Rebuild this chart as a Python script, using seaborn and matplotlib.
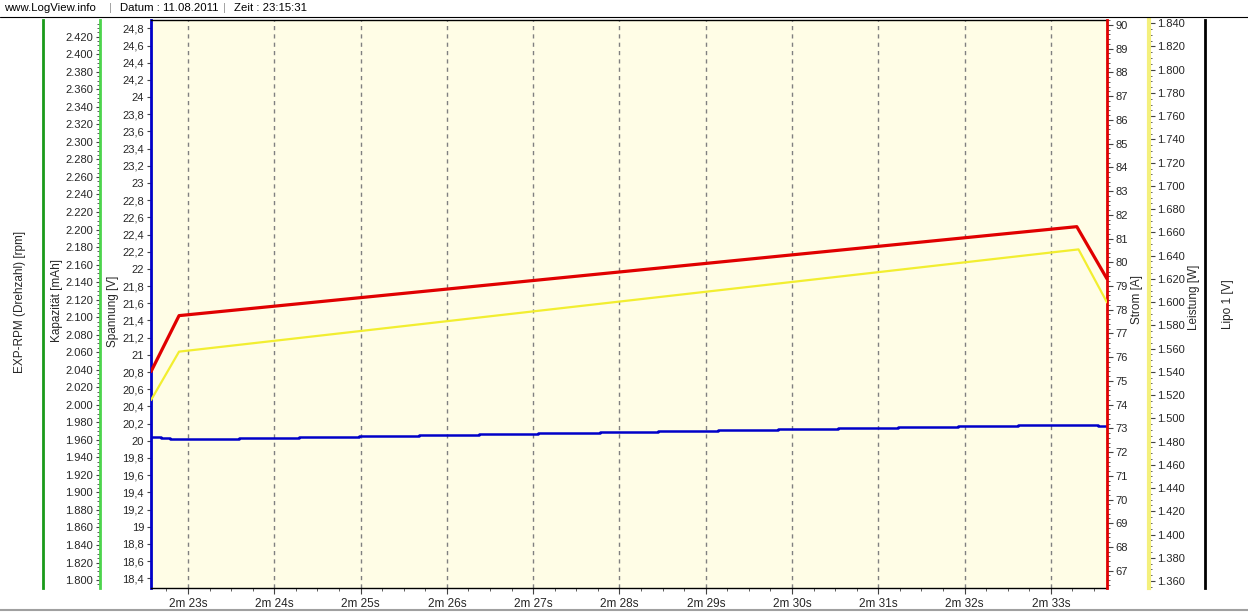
import matplotlib
matplotlib.use("Agg")
import matplotlib.pyplot as plt
from matplotlib.ticker import MultipleLocator, FuncFormatter, NullLocator
from matplotlib.lines import Line2D
import seaborn as sns

# --- Data, time in seconds: 2m 23s = 143 s ---
strom_t = [142.571, 142.896, 153.30, 153.65]
strom_a = [75.39, 77.75, 81.50, 79.30]

leistung_t = [142.571, 142.896, 153.32, 153.65]
leistung_w = [1515.7, 1557.4, 1645.4, 1599.8]

spannung_t = [142.58, 142.685, 142.79, 143.59, 144.29, 144.98, 145.68, 146.37,
              147.06, 147.77, 148.45, 149.14, 149.84, 150.53, 151.23, 151.92,
              152.62, 153.55, 153.65]
spannung_v = [20.047, 20.035, 20.020, 20.031, 20.043, 20.058, 20.066, 20.078,
              20.090, 20.105, 20.116, 20.125, 20.136, 20.148, 20.163, 20.174,
              20.183, 20.171, 20.171]

x_ticks = list(range(143, 154))
x_labels = [f"2m {s - 120}s" for s in x_ticks]

# axis ranges
X_LIM = (142.571, 153.65)
V_LIM = (18.287, 24.897)      # Spannung [V]
MAH_LIM = (1790.9, 2439.1)    # Kapazität [mAh]
A_LIM = (66.27, 90.21)        # Strom [A]
W_LIM = (1354.0, 1842.8)      # Leistung [W]

# --- Style ---
sns.set_style("white")
plt.rcParams["font.family"] = ["Liberation Sans", "DejaVu Sans"]
plt.rcParams["font.size"] = 8

W_PX, H_PX = 1248, 612
fig = plt.figure(figsize=(W_PX / 100, H_PX / 100), dpi=100)
fig.patch.set_facecolor("white")

left, right, top, bottom = 151, 1107, 20, 588
ax = fig.add_axes([left / W_PX, 1 - bottom / H_PX, (right - left) / W_PX, (bottom - top) / H_PX])
ax.set_facecolor("#fffde6")

BLUE = "#0000c8"
RED = "#e00000"
YELLOW = "#f2ee30"
YELLOW_SPINE = "#f4f07c"
LGREEN = "#4cd44c"
DGREEN = "#1a9a1a"
TICK_C = "#444444"


def frac(px):
    return (px - left) / (right - left)


def make_twin(side, pos, color, width):
    t = ax.twinx()
    for s in t.spines.values():
        s.set_visible(False)
    sp = t.spines[side]
    sp.set_visible(True)
    sp.set_position(("axes", pos))
    sp.set_color(color)
    sp.set_linewidth(width)
    if side == "left":
        t.yaxis.set_ticks_position("left")
    else:
        t.yaxis.set_ticks_position("right")
    return t


# --- main axis: Spannung (blue) ---
ax.set_xlim(*X_LIM)
ax.set_ylim(*V_LIM)
for s in ["top", "bottom"]:
    ax.spines[s].set_color("black")
    ax.spines[s].set_linewidth(1)
ax.spines["right"].set_visible(False)
ax.spines["left"].set_color(BLUE)
ax.spines["left"].set_linewidth(2)
ax.yaxis.set_major_locator(MultipleLocator(0.2))
ax.yaxis.set_major_formatter(FuncFormatter(
    lambda v, _: f"{v:.1f}".rstrip("0").rstrip(".").replace(".", ",")))
ax.set_xticks(x_ticks)
ax.set_xticklabels(x_labels)
ax.xaxis.set_minor_locator(MultipleLocator(0.25))
ax.tick_params(axis="x", which="major", direction="out", length=4, color=TICK_C, labelsize=8.5, pad=3, bottom=True)
ax.tick_params(axis="x", which="minor", direction="out", length=2, color=TICK_C, bottom=True)
ax.tick_params(axis="y", which="major", direction="out", length=3, color=TICK_C, labelsize=8, pad=2, left=True)
ax.grid(axis="x", which="major", color="#808080", linestyle=(0, (3, 3)), linewidth=1)
ax.set_axisbelow(True)

sns.lineplot(x=spannung_t, y=spannung_v, ax=ax, color=BLUE, linewidth=1.8,
             drawstyle="steps-post", errorbar=None)

# --- Kapazität (light green) and EXP-RPM (dark green) on the left ---
ax_lg = make_twin("left", frac(100), LGREEN, 2)
ax_lg.set_ylim(*MAH_LIM)
ax_lg.yaxis.set_major_locator(MultipleLocator(20))
ax_lg.yaxis.set_minor_locator(MultipleLocator(5))
ax_lg.yaxis.set_major_formatter(FuncFormatter(lambda v, _: f"{int(round(v)):,}".replace(",", ".")))
ax_lg.tick_params(axis="y", which="major", direction="out", length=3, color=TICK_C, labelsize=8, pad=2)
ax_lg.tick_params(axis="y", which="minor", direction="out", length=2, color=TICK_C)

ax_dg = make_twin("left", frac(43), DGREEN, 2)
ax_dg.yaxis.set_major_locator(NullLocator())

# --- Strom (red), Leistung (yellow), Lipo 1 (black) on the right ---
ax_red = make_twin("right", 1.0, RED, 2)
ax_red.set_ylim(*A_LIM)
ax_red.yaxis.set_major_locator(MultipleLocator(1))
ax_red.yaxis.set_minor_locator(MultipleLocator(0.2))
ax_red.yaxis.set_major_formatter(FuncFormatter(lambda v, _: f"{int(round(v))}"))
ax_red.tick_params(axis="y", which="major", direction="out", length=4, color=TICK_C, labelsize=8, pad=2)
ax_red.tick_params(axis="y", which="minor", direction="out", length=2, color=TICK_C)

ax_yel = make_twin("right", frac(1149), YELLOW_SPINE, 3)
ax_yel.set_ylim(*W_LIM)
ax_yel.yaxis.set_major_locator(MultipleLocator(20))
ax_yel.yaxis.set_minor_locator(MultipleLocator(5))
ax_yel.yaxis.set_major_formatter(FuncFormatter(lambda v, _: f"{int(round(v)):,}".replace(",", ".")))
ax_yel.tick_params(axis="y", which="major", direction="out", length=4, color=TICK_C, labelsize=8, pad=1.5)
ax_yel.tick_params(axis="y", which="minor", direction="out", length=2, color=TICK_C)

ax_blk = make_twin("right", frac(1205), "black", 2)
ax_blk.yaxis.set_major_locator(NullLocator())

sns.lineplot(x=leistung_t, y=leistung_w, ax=ax_yel, color=YELLOW, linewidth=1.6, errorbar=None)
sns.lineplot(x=strom_t, y=strom_a, ax=ax_red, color=RED, linewidth=2.3, errorbar=None)

for a in [ax, ax_lg, ax_dg, ax_red, ax_yel, ax_blk]:
    a.set_xlabel("")
    a.set_ylabel("")
    a.set_xlim(*X_LIM)

# --- axis titles ---
axis_titles = [("EXP-RPM (Drehzahl) [rpm]", 20, 302), ("Kapazität [mAh]", 57, 300),
               ("Spannung [V]", 113, 311), ("Strom [A]", 1137, 300),
               ("Leistung [W]", 1194, 297), ("Lipo 1 [V]", 1228, 304)]
for txt, xp, yp in axis_titles:
    fig.text(xp / W_PX, 1 - yp / H_PX, txt, rotation=90, ha="center", va="center", fontsize=8.5)

# --- header ---
header = [("www.LogView.info", 4, "black"), ("|", 109, "#999999"),
          ("Datum : 11.08.2011", 120, "black"), ("|", 223, "#999999"),
          ("Zeit : 23:15:31", 234, "black")]
for txt, xp, c in header:
    fig.text(xp / W_PX, 1 - 8 / H_PX, txt, ha="left", va="center", fontsize=8.2, color=c)

fig.add_artist(Line2D([0, 1], [1 - 17 / H_PX] * 2, transform=fig.transFigure, color="black", linewidth=0.8))
fig.add_artist(Line2D([0, 1], [1 - 610 / H_PX] * 2, transform=fig.transFigure, color="#a0a0a0", linewidth=1.5))

fig.savefig("out.png", dpi=100, facecolor="white")
